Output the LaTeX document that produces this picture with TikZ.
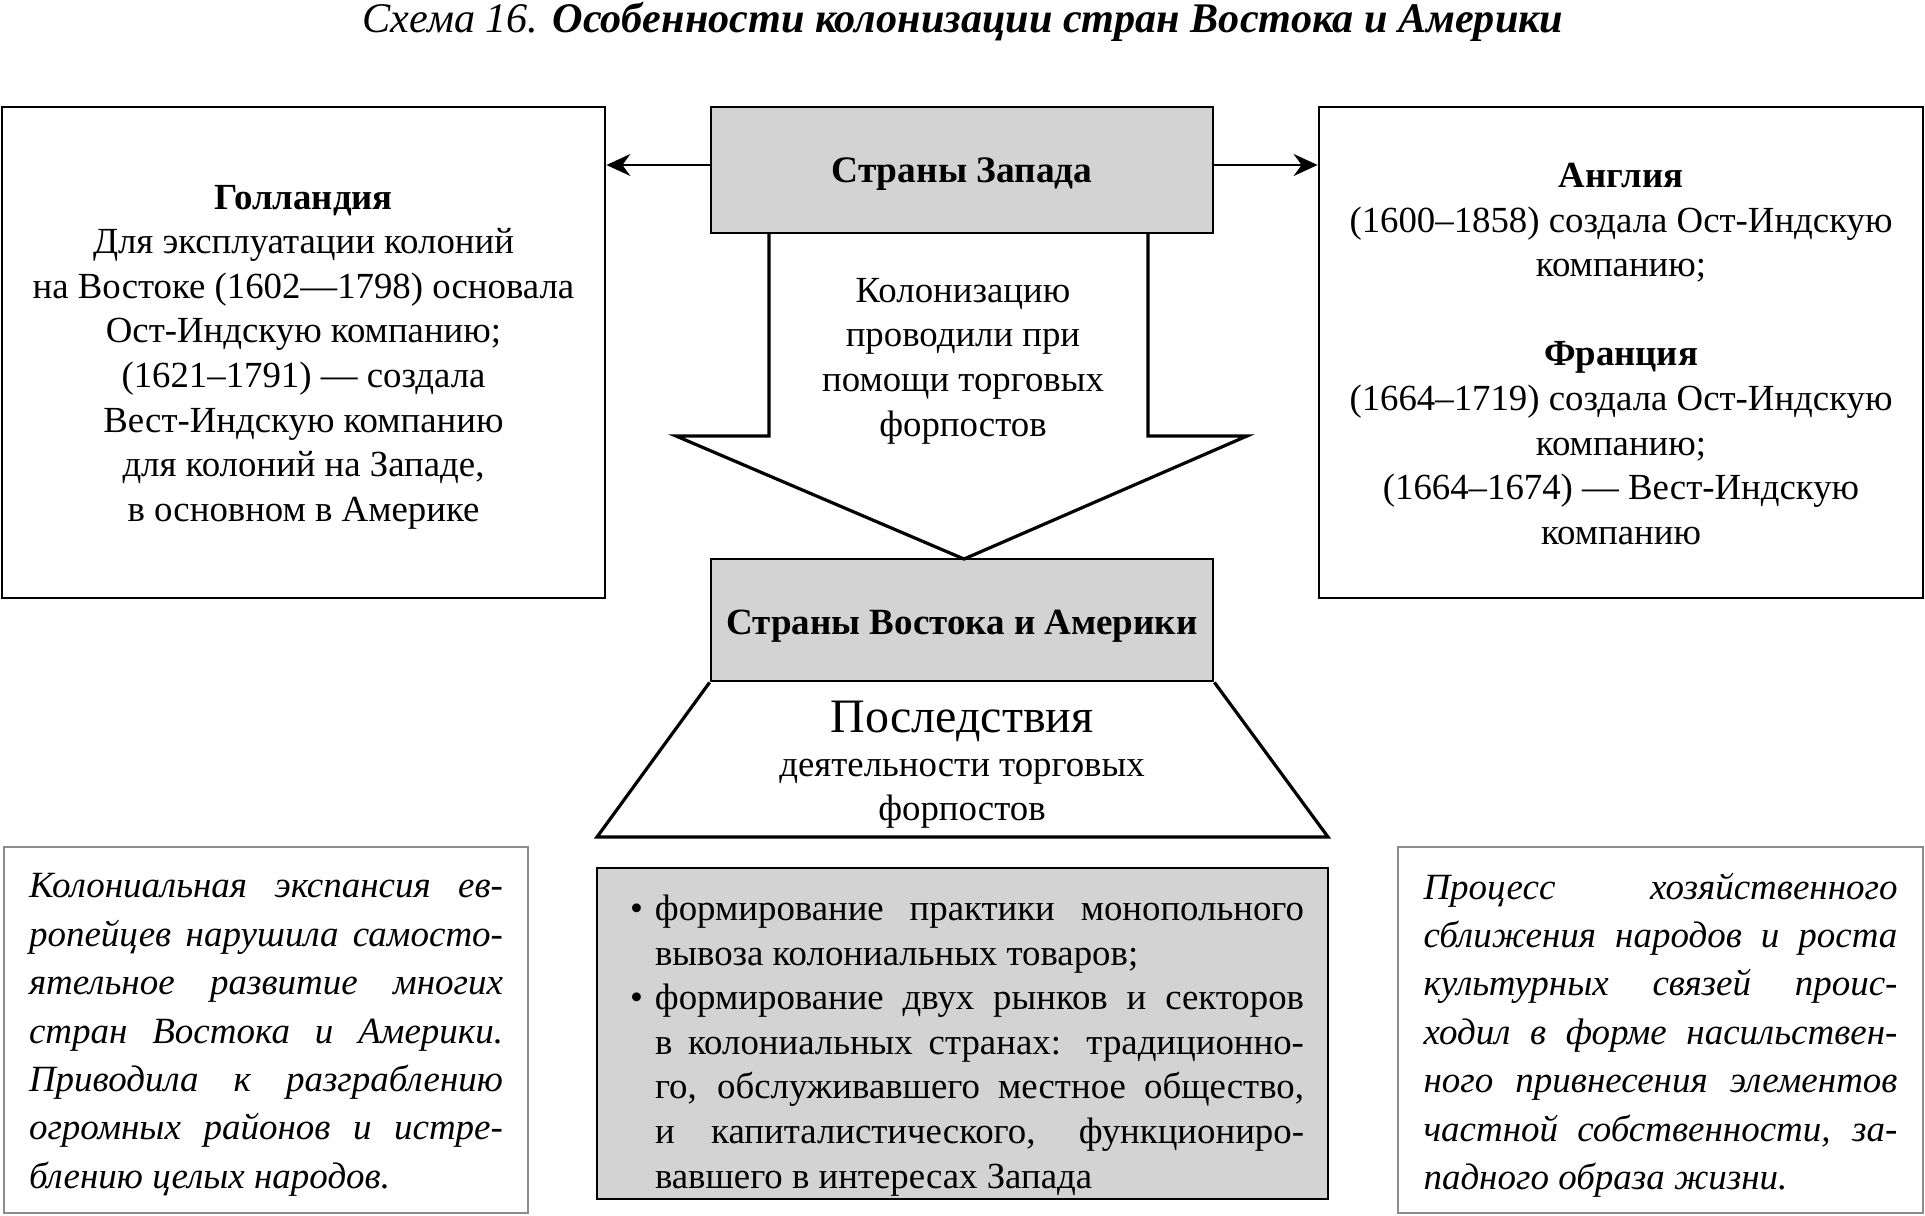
\documentclass[tikz,border=0pt]{standalone}
\usepackage{fontspec}
\setmainfont{Liberation Serif}
\usetikzlibrary{arrows.meta}
\definecolor{boxgray}{RGB}{211,211,211}
\definecolor{framegray}{RGB}{140,140,140}
\newcommand\fbody{\fontsize{18.4}{22.3}\selectfont}
\newcommand\fitl{\fontsize{18.5}{24.2}\selectfont\itshape}
\newcommand\jl[1]{\makebox[237pt][s]{#1}}
\newcommand\jc[1]{\makebox[324.5pt][s]{#1}}
\newcommand\bul{\makebox[12.5pt][l]{•}}
\begin{document}
\begin{tikzpicture}[x=0.5pt,y=-0.5pt,
  frame/.style={draw=black, line width=1.4pt, inner sep=0pt},
  grayframe/.style={frame, fill=boxgray},
  sideframe/.style={draw=framegray, line width=1.4pt, inner sep=0pt},
  txt/.style={inner sep=0pt},
  conn/.style={line width=1pt, -{Stealth[length=12pt,width=11pt,inset=4pt]}},
  bigarrow/.style={line width=1.6pt, line join=miter}
]
\useasboundingbox (0,0) rectangle (1925,1215);

% title
\node (title) at (963,22) {\fontsize{21.1}{26}\selectfont\itshape Схема 16. \bfseries Особенности колонизации стран Востока и Америки};

% top row
\node[grayframe, minimum width=251pt, minimum height=63pt] (zap) at (962,170) {};
\node[txt] (zaptext) at (962,174) {\fontsize{18.7}{22}\selectfont\bfseries Страны Запада};

\node[frame, minimum width=301.5pt, minimum height=245.5pt] (hol) at (303.5,352.5) {};
\node[txt, align=center, font=\fbody] (holtext) at (303.5,357)
  {{\bfseries Голландия}\\
   Для эксплуатации колоний\\
   на Востоке (1602—1798) основала\\
   Ост-Индскую компанию;\\
   (1621–1791) — создала\\
   Вест-Индскую компанию\\
   для колоний на Западе,\\
   в основном в Америке};

\node[frame, minimum width=302pt, minimum height=245.5pt] (eng) at (1621,352.5) {};
\node[txt, align=center, font=\fbody] (engtext) at (1621,354)
  {{\bfseries Англия}\\
   (1600–1858) создала Ост-Индскую\\
   компанию;\\[22.3pt]
   {\bfseries Франция}\\
   (1664–1719) создала Ост-Индскую\\
   компанию;\\
   (1664–1674) — Вест-Индскую\\
   компанию};

\draw[conn] (zap.west |- 0,165) -- (hol.east |- 0,165);
\draw[conn] (zap.east |- 0,165) -- (eng.west |- 0,165);

% second box
\node[grayframe, minimum width=251pt, minimum height=61pt] (vost) at (962,620) {};
\node[txt] (vosttext) at (962,626) {\fontsize{18.5}{22}\selectfont\bfseries Страны Востока и Америки};

% big arrow
\coordinate (a1) at (769,233);
\coordinate (a2) at (769,436);
\coordinate (a3) at (676,436);
\coordinate (tip) at (964,559);
\coordinate (a5) at (1247,436);
\coordinate (a6) at (1148,436);
\coordinate (a7) at (1148,233);
\draw[bigarrow] (a1) -- (a2) -- (a3) -- (tip) -- (a5) -- (a6) -- (a7);
\node[txt, align=center, font=\fbody] (coltext) at (963,361)
  {Колонизацию\\ проводили при\\ помощи торговых\\ форпостов};

% trapezoid
\coordinate (t1) at (597,837);
\coordinate (t2) at (1328,837);
\draw[bigarrow] (vost.south west) -- (t1) -- (t2) -- (vost.south east);
\node[txt, font=\fontsize{24}{28}\selectfont] (posl) at (962,721) {Последствия};
\node[txt, align=center, font=\fontsize{18.4}{21.8}\selectfont] (posl2) at (962,794) {деятельности торговых\\ форпостов};

% bottom row
\node[sideframe, minimum width=262pt, minimum height=183pt] (leftb) at (266,1030) {};
\node[txt, align=left, font=\fitl] (lefttext) at (266,1035)
  {\jl{Колониальная экспансия ев-}\\
   \jl{ропейцев нарушила самосто-}\\
   \jl{ятельное развитие многих}\\
   \jl{стран Востока и Америки.}\\
   \jl{Приводила к разграблению}\\
   \jl{огромных районов и истре-}\\
   блению целых народов.};

\node[grayframe, minimum width=365.5pt, minimum height=165.5pt] (cent) at (962.5,1033.5) {};
\node[txt, align=left, font=\fbody] (centtext) at (967,1045.5)
  {\bul\jc{формирование практики монопольного}\\
   \hspace*{12.5pt}вывоза колониальных товаров;\\
   \bul\jc{формирование двух рынков и секторов}\\
   \hspace*{12.5pt}\jc{в колониальных странах: традиционно-}\\
   \hspace*{12.5pt}\jc{го, обслуживавшего местное общество,}\\
   \hspace*{12.5pt}\jc{и капиталистического, функциониро-}\\
   \hspace*{12.5pt}вавшего в интересах Запада};

\node[sideframe, minimum width=262.5pt, minimum height=183pt] (rightb) at (1660.5,1030) {};
\node[txt, align=left, font=\fitl] (righttext) at (1660.5,1035)
  {\jl{Процесс хозяйственного}\\
   \jl{сближения народов и роста}\\
   \jl{культурных связей проис-}\\
   \jl{ходил в форме насильствен-}\\
   \jl{ного привнесения элементов}\\
   \jl{частной собственности, за-}\\
   падного образа жизни.};
\end{tikzpicture}
\end{document}
